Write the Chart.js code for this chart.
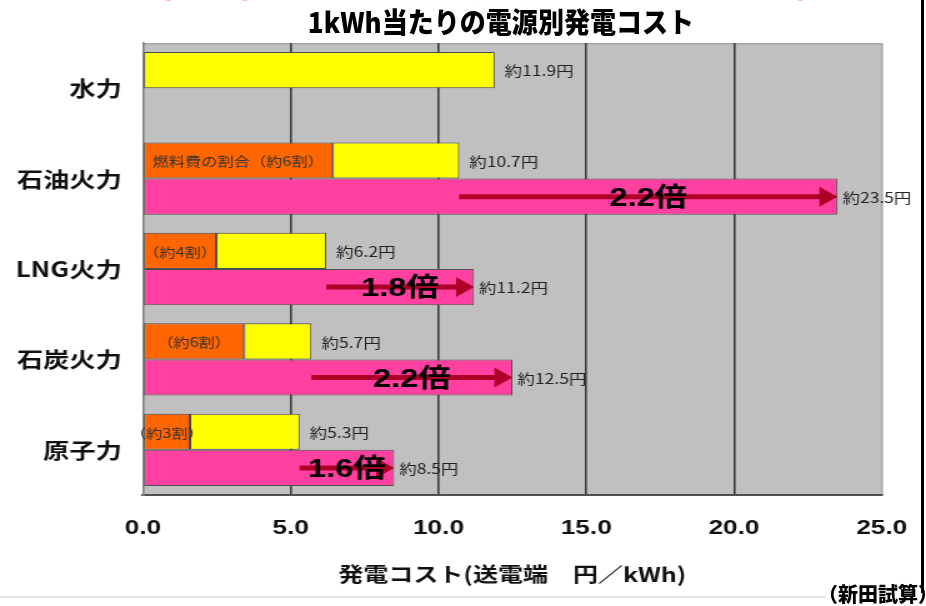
<!DOCTYPE html>
<html lang="ja">
<head>
<meta charset="utf-8">
<title>1kWh当たりの電源別発電コスト</title>
<script src="https://cdn.jsdelivr.net/npm/chart.js@4.4.1/dist/chart.umd.min.js"></script>
<style>
  html, body { margin: 0; padding: 0; background: #fff; }
  body {
    width: 926px; height: 606px; position: relative; overflow: hidden;
    font-family: "Noto Sans CJK JP", sans-serif;
  }
  /* スライド見出し(上端で切れている) */
  #midashi {
    position: absolute; left: 8px; top: -46px; width: 880px;
    color: #ff0000; font-size: 44px; line-height: 46px; font-weight: bold;
    white-space: nowrap; letter-spacing: 2px;
  }
  #daimei {
    position: absolute; left: 0; top: 2px; width: 1002px; text-align: center;
    font-size: 28px; line-height: 38px; font-weight: 900; color: #000; z-index: 2;
    transform: scaleX(0.93); transform-origin: 501px 0;
  }
  /* グラフ画像は横に引き伸ばされている */
  #waku {
    position: absolute; left: 0; top: 0; width: 741px; height: 606px;
    transform: scaleX(1.2497); transform-origin: 0 0;
  }
  #tatesen { position: absolute; left: 921px; top: 0; width: 3px; height: 593px; background: #000; }
  #yokosen { position: absolute; left: 0; top: 596px; width: 826px; height: 2px; background: #e4e4e4; }
  #shutten {
    position: absolute; left: 818px; top: 581px; font-size: 20px; line-height: 26px;
    font-weight: 900; white-space: nowrap; color: #000;
  }
</style>
</head>
<body>
<div id="midashi">燃料価格の高騰で火力発電のコストは約２倍に</div>
<div id="waku"><canvas id="grafu"></canvas></div>
<div id="daimei">1kWh当たりの電源別発電コスト</div>
<div id="tatesen"></div>
<div id="yokosen"></div>
<div id="shutten">（新田試算）</div>

<script>
// 電源の区分
const kubun = ['水力', '石油火力', 'LNG火力', '石炭火力', '原子力'];
// 現在の発電コスト(円/kWh)
const genzai = [11.9, 10.7, 6.2, 5.7, 5.3];
// 燃料費の割合
const nenryoWariai = [0, 0.6, 0.4, 0.6, 0.3];
const wariaiLabel = ['', '燃料費の割合（約6割）', '（約4割）', '（約6割）', '（約3割）'];
// 燃料高騰後の発電コスト(円/kWh)
const kongo = [null, 23.5, 11.2, 12.5, 8.5];
// 横軸の目盛り
const xMemori = [0, 5, 10, 15, 20, 25];

// 積み上げ用に燃料費とそれ以外に分ける
const nenryo = genzai.map((v, i) => nenryoWariai[i] ? +(v * nenryoWariai[i]).toFixed(2) : null);
const sonota = genzai.map((v, i) => +(v - (nenryo[i] || 0)).toFixed(2));

const iroOrange = '#ff6600';
const iroKiiro = '#ffff00';
const iroPink = '#ff40a0';
const iroYajirushi = '#ad0028';

Chart.defaults.font.family = '"Noto Sans CJK JP", sans-serif';
Chart.defaults.color = '#111';

// 背景・数値ラベル・倍率の矢印
const kazari = {
  id: 'kazari',
  beforeDraw(chart) {
    const { ctx, chartArea: a } = chart;
    ctx.save();
    ctx.fillStyle = '#c0c0c0';
    ctx.fillRect(a.left, a.top, a.right - a.left, a.bottom - a.top);
    ctx.strokeStyle = '#a4a4a4';
    ctx.lineWidth = 1.5;
    ctx.beginPath();
    ctx.moveTo(a.left, a.top + 0.75);
    ctx.lineTo(a.right, a.top + 0.75);
    ctx.stroke();
    ctx.restore();
  },
  afterDatasetsDraw(chart) {
    const { ctx } = chart;
    const xs = chart.scales.x;
    const mOrange = chart.getDatasetMeta(0);
    const mKiiro = chart.getDatasetMeta(1);
    const mPink = chart.getDatasetMeta(2);
    ctx.save();

    // 燃料費の割合
    ctx.font = '13px "Noto Sans CJK JP", sans-serif';
    ctx.fillStyle = '#333';
    ctx.textAlign = 'center';
    ctx.textBaseline = 'middle';
    mOrange.data.forEach((el, i) => {
      if (!wariaiLabel[i] || nenryo[i] == null) return;
      ctx.fillText(wariaiLabel[i], (el.x + el.base) / 2, el.y + 1);
    });

    // 金額ラベル
    ctx.font = '14px "Noto Sans CJK JP", sans-serif';
    ctx.fillStyle = '#222';
    ctx.textAlign = 'left';
    mKiiro.data.forEach((el, i) => {
      ctx.fillText('約' + genzai[i].toFixed(1) + '円', el.x + 8, el.y + 1);
    });
    mPink.data.forEach((el, i) => {
      if (kongo[i] == null) return;
      ctx.fillText('約' + kongo[i].toFixed(1) + '円', el.x + 4, el.y + 1);
    });

    // 倍率の矢印
    mPink.data.forEach((el, i) => {
      if (kongo[i] == null) return;
      const x0 = xs.getPixelForValue(genzai[i]);
      const x1 = el.x;
      const y = el.y;
      const yajiNagasa = 14.4;
      ctx.strokeStyle = iroYajirushi;
      ctx.fillStyle = iroYajirushi;
      ctx.lineWidth = 5;
      ctx.beginPath();
      ctx.moveTo(x0, y);
      ctx.lineTo(x1 - yajiNagasa + 1, y);
      ctx.stroke();
      ctx.beginPath();
      ctx.moveTo(x1, y);
      ctx.lineTo(x1 - yajiNagasa, y - 10);
      ctx.lineTo(x1 - yajiNagasa, y + 10);
      ctx.closePath();
      ctx.fill();

      ctx.font = 'bold 26px "Liberation Sans", "Noto Sans CJK JP", sans-serif';
      ctx.fillStyle = '#000';
      ctx.textAlign = 'center';
      ctx.fillText((kongo[i] / genzai[i]).toFixed(1) + '倍', (x0 + x1) / 2, y + 2);
    });
    ctx.restore();
  }
};

new Chart(document.getElementById('grafu'), {
  type: 'bar',
  data: {
    labels: kubun,
    datasets: [
      {
        label: '燃料費',
        data: nenryo,
        stack: 'genzai',
        backgroundColor: iroOrange,
        borderColor: '#4a4a4a',
        borderWidth: 1,
        borderSkipped: false
      },
      {
        label: 'その他',
        data: sonota,
        stack: 'genzai',
        backgroundColor: iroKiiro,
        borderColor: '#4a4a4a',
        borderWidth: 1,
        borderSkipped: false
      },
      {
        label: '燃料高騰後',
        data: kongo,
        stack: 'kongo',
        backgroundColor: iroPink,
        borderColor: '#505050',
        borderWidth: 1,
        borderSkipped: false
      }
    ]
  },
  options: {
    indexAxis: 'y',
    responsive: true,
    maintainAspectRatio: false,
    animation: false,
    categoryPercentage: 0.8,
    barPercentage: 1.0,
    layout: {
      padding: { top: 43, right: 35.4, bottom: 0, left: 0 }
    },
    plugins: {
      legend: { display: false },
      title: { display: false },
      tooltip: { enabled: false }
    },
    scales: {
      x: {
        stacked: true,
        min: 0,
        max: 25,
        afterFit: s => {
          s.height = 111;
          // 端の目盛りラベル分の余白は取らない
          s.paddingLeft = 0;
          s.paddingRight = 0;
        },
        afterBuildTicks: s => { s.ticks = xMemori.map(v => ({ value: v })); },
        grid: {
          drawTicks: false,
          lineWidth: 1.6,
          color: c => c.index === 0 ? 'rgba(0,0,0,0)' : (c.index === xMemori.length - 1 ? '#a8a8a8' : '#3c3c3c')
        },
        border: { color: '#505050', width: 2 },
        ticks: {
          padding: 21,
          color: '#111',
          font: { family: '"Liberation Sans", Arial, sans-serif', size: 21, weight: 'bold' },
          callback: v => Number(v).toFixed(1)
        },
        title: {
          display: true,
          text: '発電コスト(送電端　円／kWh)',
          color: '#111',
          font: { size: 20, weight: 'bold' },
          padding: { top: 0, bottom: 20 }
        }
      },
      y: {
        stacked: true,
        afterFit: s => { s.width = 114.4; },
        grid: { display: false, drawTicks: false },
        border: { color: '#808080', width: 1.6 },
        ticks: {
          padding: 17,
          color: '#111',
          font: { size: 21, weight: 'bold' }
        }
      }
    }
  },
  plugins: [kazari]
});
</script>
</body>
</html>
